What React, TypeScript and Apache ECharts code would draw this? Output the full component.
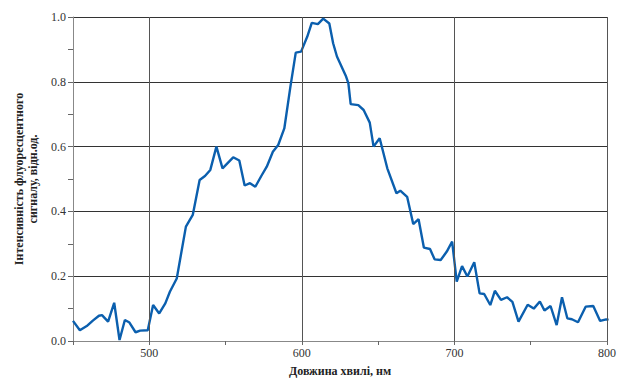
import React, { useEffect, useRef } from "react";
import * as echarts from "echarts";

const wavelengths = [
  450, 454.5, 459, 463, 467, 469, 473, 477, 480.5, 484, 487, 491, 494, 499,
  502.5, 506.5, 510.5, 513.5, 518, 524, 528.5, 533, 536.5, 540, 544, 548, 555,
  559, 562.5, 566, 569.5, 573.5, 577, 581, 584.5, 588.5, 592.5, 596, 599.5,
  603.5, 606.5, 610.5, 614, 618, 620.5, 623, 629, 630.5, 632, 637, 640.5,
  644.5, 647, 651, 656, 662, 664.5, 669, 673, 676.5, 680, 684, 687, 691, 695,
  698.5, 701.5, 705, 708.5, 713, 716.5, 719.5, 723.5, 726.5, 730.5, 734.5, 738,
  742, 748, 752, 756, 759, 763, 767, 770.5, 774, 777, 781, 786, 791, 795.5,
  799.5, 801,
];
const intensity = [
  0.062, 0.033, 0.046, 0.063, 0.078, 0.08, 0.06, 0.118, 0.003, 0.065, 0.057,
  0.027, 0.032, 0.033, 0.111, 0.085, 0.116, 0.152, 0.193, 0.353, 0.389, 0.497,
  0.509, 0.528, 0.6, 0.533, 0.567, 0.557, 0.48, 0.487, 0.476, 0.51, 0.538,
  0.584, 0.605, 0.656, 0.785, 0.89, 0.893, 0.939, 0.982, 0.978, 0.995, 0.98,
  0.919, 0.878, 0.816, 0.795, 0.731, 0.728, 0.713, 0.674, 0.6, 0.626, 0.533,
  0.456, 0.464, 0.445, 0.361, 0.376, 0.288, 0.284, 0.252, 0.25, 0.276, 0.307,
  0.183, 0.231, 0.199, 0.243, 0.147, 0.145, 0.111, 0.155, 0.127, 0.135, 0.121,
  0.06, 0.112, 0.1, 0.122, 0.094, 0.108, 0.049, 0.135, 0.07, 0.067, 0.058,
  0.106, 0.108, 0.062, 0.067, 0.065,
];
const xGridValues = [500, 600, 700, 800];
const xTitle = "Довжина хвилі, нм";
const yTitle = "Інтенсивність флуоресцентного\nсигналу, відн.од.";

const FONT = "'Liberation Serif', 'Times New Roman', serif";

export default function App() {
  const ref = useRef<HTMLDivElement>(null);
  useEffect(() => {
    if (!ref.current) return;
    const chart = echarts.init(ref.current, undefined, { renderer: "svg" });
    const points = wavelengths.map((w, i) => [w, intensity[i]]);
    chart.setOption({
      animation: false,
      backgroundColor: "#ffffff",
      grid: { left: 73, right: 18, top: 17, bottom: 42, containLabel: false },
      xAxis: {
        type: "value",
        min: 450,
        max: 800,
        interval: 50,
        name: xTitle,
        nameLocation: "middle",
        nameGap: 24,
        nameTextStyle: { fontFamily: FONT, fontWeight: "bold", fontSize: 12, color: "#222" },
        axisLine: { show: true, lineStyle: { color: "#888", width: 1 } },
        axisTick: { show: true, length: 4, lineStyle: { color: "#666" } },
        axisLabel: {
          fontFamily: FONT,
          fontSize: 12,
          color: "#333",
          margin: 6,
          formatter: (v: number) => (v % 100 === 0 ? String(v) : ""),
        },
        splitLine: { show: false },
      },
      yAxis: {
        type: "value",
        min: 0,
        max: 1,
        interval: 0.2,
        name: yTitle,
        nameLocation: "middle",
        nameGap: 30,
        nameTextStyle: { fontFamily: FONT, fontWeight: "bold", fontSize: 12, color: "#222", lineHeight: 14 },
        axisLine: { show: true, lineStyle: { color: "#888", width: 1 } },
        axisTick: { show: true, length: 5, lineStyle: { color: "#666" } },
        minorTick: { show: true, splitNumber: 2, length: 5, lineStyle: { color: "#666" } },
        axisLabel: {
          fontFamily: FONT,
          fontSize: 12,
          color: "#333",
          margin: 7,
          formatter: (v: number) => v.toFixed(1),
        },
        splitLine: { show: true, lineStyle: { color: "#333", width: 1 } },
      },
      series: [
        {
          type: "line",
          data: [],
          silent: true,
          z: 1,
          markLine: {
            silent: true,
            symbol: "none",
            label: { show: false },
            lineStyle: { color: "#555", width: 1, type: "solid" },
            data: xGridValues.map((v) => ({ xAxis: v })),
          },
        },
        {
          type: "line",
          data: points,
          showSymbol: false,
          symbol: "none",
          smooth: false,
          z: 3,
          lineStyle: { color: "#0b5fae", width: 2.4 },
        },
      ],
    });
    return () => chart.dispose();
  }, []);
  return (
    <div
      ref={ref}
      style={{ position: "fixed", left: 0, top: 0, width: 625, height: 383 }}
    />
  );
}
